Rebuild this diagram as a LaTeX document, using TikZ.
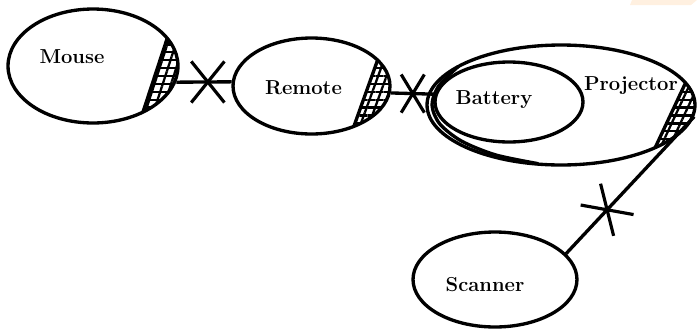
\documentclass[tikz,border=0pt]{standalone}
\usepackage{tikz}
\usetikzlibrary{calc,shapes.geometric,shapes.misc,patterns.meta}

\begin{document}
\begin{tikzpicture}[x=0.02cm,y=-0.02cm,
        ent/.style={draw,ellipse,line width=1.9pt,inner sep=0pt},
        lbl/.style={font=\fontsize{11.5}{13}\selectfont\bfseries},
        link/.style={line width=1.9pt},
        xmark/.style={draw,cross out,line width=1.8pt,inner sep=0pt},
        hatch/.style={pattern={Lines[angle=#1,distance=4.5pt,line width=1.3pt]}}]
        \useasboundingbox (0,0) rectangle (697,329);
        \fill[orange!12] (632,0) -- (697,0) -- (691,5) -- (630,5) -- cycle;
        \coordinate (A) at (177.5,  7); \coordinate (B) at (131.5,147);
        \coordinate (C) at (388.0, 31); \coordinate (D) at (344.0,154);
        \coordinate (E) at (700.0, 52); \coordinate (F) at (640.0,180);
        \begin{scope}
            \clip (93,66) ellipse [x radius=85, y radius=57];
            \fill[hatch=0]  (A) -- (B) -- (200,147) -- (200,7) -- cycle;
            \fill[hatch=72] (A) -- (B) -- (200,147) -- (200,7) -- cycle;
            \draw[link] (A) -- (B);
        \end{scope}
        \begin{scope}
            \clip (311.5,86) ellipse [x radius=78.5, y radius=48];
            \fill[hatch=0]  (C) -- (D) -- (420,154) -- (420,31) -- cycle;
            \fill[hatch=70] (C) -- (D) -- (420,154) -- (420,31) -- cycle;
            \draw[link] (C) -- (D);
        \end{scope}
        \begin{scope}
            \clip (561,105) ellipse [x radius=134, y radius=60];
            \fill[hatch=0]  (E) -- (F) -- (720,180) -- (720,52) -- cycle;
            \fill[hatch=65] (E) -- (F) -- (720,180) -- (720,52) -- cycle;
            \draw[link] (E) -- (F);
        \end{scope}
        \node[ent,minimum width=3.4cm,minimum height=2.28cm] (mouse) at (93,66) {};
        \node[ent,minimum width=3.14cm,minimum height=1.92cm] (remote) at (311.5,86) {};
        \node[ent,minimum width=5.36cm,minimum height=2.4cm] (projector) at (561,105) {};
        \node[ent,minimum width=2.96cm,minimum height=1.6cm] (battery) at (509,102) {};
        \node[ent,minimum width=3.28cm,minimum height=1.9cm] (scanner) at (495,279.5) {};
        \draw[link,line cap=round] plot[smooth] coordinates {(458.4,66.4) (438.8,85.8) (432,105) (439.7,123.8) (461.4,141) (495.3,154.8) (537.8,163.6)};
        \node[lbl] (tmouse) at (72,57) {Mouse};
        \node[lbl] (tremote) at (303.5,87.5) {Remote};
        \node[lbl] (tbattery) at (494,100) {Battery};
        \node[lbl] (tprojector) at (631,86) {Projector};
        \node[lbl] (tscanner) at (485,285) {Scanner};
        \draw[link] (mouse.-11) -- node[xmark,minimum width=0.6cm,minimum height=0.76cm,pos=0.57] (x1) {} (remote.177);
        \draw[link] (remote.-5) -- node[xmark,minimum width=0.4cm,minimum height=0.7cm,pos=0.5] (x2) {} (battery.174);
        \draw[link] (scanner.20) -- node[xmark,sloped,minimum width=0.52cm,minimum height=0.84cm,pos=0.32] (x3) {} (projector.-5);
    \end{tikzpicture}
\end{document}
